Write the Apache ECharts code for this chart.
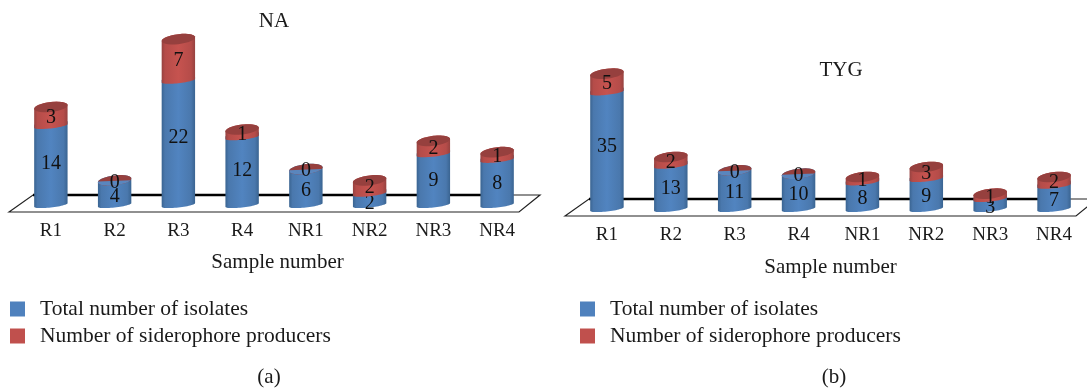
<!DOCTYPE html>
<html>
<head>
<meta charset="utf-8">
<style>
  html, body { margin: 0; padding: 0; background: #fff; }
  #chart { width: 1087px; height: 390px; }
</style>
<script src="https://cdn.jsdelivr.net/npm/echarts@6/dist/echarts.min.js"></script>
</head>
<body>
<div id="chart"></div>
<script>
const categories = ['R1', 'R2', 'R3', 'R4', 'NR1', 'NR2', 'NR3', 'NR4'];
const naTotal = [14, 4, 22, 12, 6, 2, 9, 8];
const naProducers = [3, 0, 7, 1, 0, 2, 2, 1];
const tygTotal = [35, 13, 11, 10, 8, 9, 3, 7];
const tygProducers = [5, 2, 0, 0, 1, 3, 1, 2];

const nameTotal = 'Total number of isolates';
const nameProducers = 'Number of siderophore producers';
const FONT = '"Liberation Serif", serif';
const BLUE = '#4f81bd';
const RED = '#c0504d';

// elliptical outline, tilted a little like the Excel 3D view
function ring(cx, cy, rx, ry, from, to) {
  const pts = [];
  const n = 28;
  for (let i = 0; i <= n; i++) {
    const t = from + (to - from) * i / n;
    const px = rx * Math.cos(t);
    pts.push([cx + px, cy + ry * Math.sin(t) - px * 0.11]);
  }
  return pts;
}

function sideFill(dark, mid, light) {
  return new echarts.graphic.LinearGradient(0, 0, 1, 0, [
    { offset: 0, color: dark },
    { offset: 0.1, color: mid },
    { offset: 0.5, color: light },
    { offset: 0.88, color: mid },
    { offset: 1, color: dark }
  ]);
}

function cylinder(kind) {
  return function (params, api) {
    const idx = api.value(0);
    const from = api.coord([idx, api.value(1)]);
    const to = api.coord([idx, api.value(2)]);
    const rx = api.size([1, 0])[0] * 0.262;
    const ry = 5;
    const cx = from[0];
    const children = [];
    // lower edges read flatter than the top cap in the original
    const side = ring(cx, from[1] + 2, rx, 2.5, 0, Math.PI)
      .concat(ring(cx, to[1], rx, ry, Math.PI, 2 * Math.PI));
    const fill = kind === 'total'
      ? sideFill('#3a6491', '#4a78ad', '#5184c0')
      : sideFill('#964240', '#b54c49', '#c6534f');
    const h = from[1] - to[1];
    if (h > 0) {
      children.push({ type: 'polygon', shape: { points: side }, style: { fill: fill } });
    }
    if (api.value(3) === 1) {
      children.push({
        type: 'polygon',
        shape: { points: ring(cx, to[1], rx, ry, 0, Math.PI * 2) },
        style: { fill: '#96403e' }
      });
      // an empty segment leaves the blue top showing through
      if (h === 0) {
        children.push({
          type: 'polygon',
          shape: { points: ring(cx, to[1], rx, ry, Math.PI * 0.1, Math.PI * 1.05) },
          style: { fill: '#5a86bd' }
        });
      }
    }
    // labels in the original sit lower on short bars, higher on tall ones
    const drift = kind === 'total' ? 7 - h * 0.08 : 2;
    children.push({
      type: 'text',
      style: {
        text: String(api.value(2) - api.value(1)),
        x: cx,
        y: (from[1] + to[1]) / 2 + drift,
        align: 'center',
        verticalAlign: 'middle',
        font: '20px ' + FONT,
        fill: '#111'
      },
      z2: 10
    });
    return { type: 'group', children: children };
  };
}

// the flat plate the cylinders stand on
function floor(params, api) {
  const c = params.coordSys;
  const base = c.y + c.height;
  const back = base - 8;
  const front = base + 9;
  const left = c.x - 10;
  const shift = 24;
  const width = c.width;
  return {
    type: 'group',
    children: [
      { type: 'polygon', shape: { points: [[left, front], [left + shift, back], [left + shift + width - 3, back], [left + width, front]] },
        style: { fill: '#fff', stroke: '#222', lineWidth: 1.2 } },
      { type: 'line', shape: { x1: left + shift, y1: back, x2: c.x + width - 16, y2: back },
        style: { stroke: '#000', lineWidth: 2.6 } }
    ]
  };
}

function rows(values, below, top) {
  return values.map((v, i) => {
    const start = below ? below[i] : 0;
    return [i, start, start + v, top ? 1 : 0];
  });
}

function panel(gridIndex, total, producers) {
  return [
    { type: 'custom', name: 'floor', coordinateSystem: 'cartesian2d', xAxisIndex: gridIndex, yAxisIndex: gridIndex,
      data: [[0, 0, 0, 0]], renderItem: floor, silent: true, z: 1, clip: false, encode: { x: 0, y: 1 } },
    { type: 'custom', name: nameTotal, coordinateSystem: 'cartesian2d', xAxisIndex: gridIndex, yAxisIndex: gridIndex,
      data: rows(total, null, false), renderItem: cylinder('total'), itemStyle: { color: BLUE }, z: 2, clip: false, encode: { x: 0, y: [1, 2] } },
    { type: 'custom', name: nameProducers, coordinateSystem: 'cartesian2d', xAxisIndex: gridIndex, yAxisIndex: gridIndex,
      data: rows(producers, total, true), renderItem: cylinder('producers'), itemStyle: { color: RED }, z: 3, clip: false, encode: { x: 0, y: [1, 2] } }
  ];
}

function xAxis(gridIndex, gap, shift) {
  return {
    type: 'category', gridIndex: gridIndex, data: categories,
    axisLine: { show: false }, axisTick: { show: false },
    axisLabel: { color: '#1a1a1a', fontFamily: FONT, fontSize: 19, margin: 19 },
    name: 'Sample number', nameLocation: 'middle', nameGap: gap,
    nameTextStyle: { color: '#1a1a1a', fontFamily: FONT, fontSize: 21, padding: [0, 0, 0, shift] }
  };
}

function yAxis(gridIndex, max) {
  return { type: 'value', gridIndex: gridIndex, min: 0, max: max, show: false };
}

function heading(text, left, top) {
  return { text: text, left: left, top: top, padding: 0, textAlign: 'center',
    textStyle: { color: '#1a1a1a', fontFamily: FONT, fontSize: 21, fontWeight: 'normal' } };
}

function legend(left) {
  return {
    data: [nameTotal, nameProducers], orient: 'vertical', left: left, top: 298, padding: 0,
    icon: 'rect', itemWidth: 15, itemHeight: 15, itemGap: 5, selectedMode: false,
    textStyle: { color: '#1a1a1a', fontFamily: FONT, fontSize: 21.5, padding: [4, 0, 0, 10] }
  };
}

const chart = echarts.init(document.getElementById('chart'));
chart.setOption({
  animation: false,
  backgroundColor: '#fff',
  title: [
    heading('NA', 274, 11),
    heading('TYG', 841, 60),
    heading('(a)', 269, 367),
    heading('(b)', 834, 367)
  ],
  legend: [legend(10), legend(580)],
  grid: [
    { left: 19, width: 510, top: 33.5, height: 169.5 },
    { left: 575, width: 511, top: 57, height: 150 }
  ],
  xAxis: [xAxis(0, 49, 7), xAxis(1, 50, 0)],
  yAxis: [yAxis(0, 30), yAxis(1, 45)],
  series: panel(0, naTotal, naProducers).concat(panel(1, tygTotal, tygProducers))
});
</script>
</body>
</html>
